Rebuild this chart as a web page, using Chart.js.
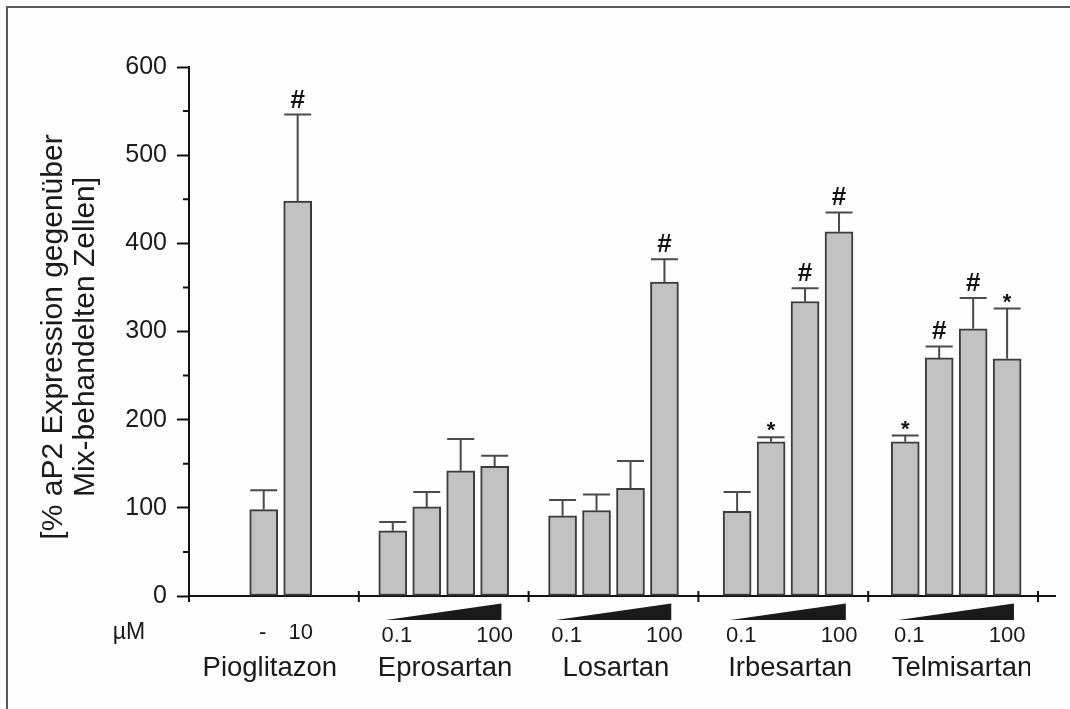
<!DOCTYPE html>
<html>
<head>
<meta charset="utf-8">
<script src="https://cdn.jsdelivr.net/npm/chart.js@4.4.1/dist/chart.umd.min.js"></script>
<style>
  html, body { margin: 0; padding: 0; background: #ffffff; }
  canvas { display: block; }
</style>
</head>
<body>
<canvas id="chart" width="1070" height="709"></canvas>
<script>
// aP2 expression per treatment group (mean and upward SEM), dose ramp 0.1 -> 100 µM
const groupNames = ['Pioglitazon', 'Eprosartan', 'Losartan', 'Irbesartan', 'Telmisartan'];
const doseLabels = [['-', '10'], ['0.1', '100'], ['0.1', '100'], ['0.1', '100'], ['0.1', '100']];
const meanValues = [[98, 448], [74, 101, 142, 147], [91, 97, 122, 356], [96, 175, 334, 413], [175, 270, 303, 269]];
const semValues = [[22, 98], [10, 17, 36, 12], [18, 18, 31, 26], [22, 5, 15, 22], [7, 13, 35, 57]];
const markers = [['', '#'], ['', '', '', ''], ['', '', '', '#'], ['', '*', '#', '#'], ['*', '#', '#', '*']];
const yTickValues = [0, 100, 200, 300, 400, 500, 600];
const unitLabel = 'µM';
const yTitle = ['[% aP2 Expression gegenüber', 'Mix-behandelten Zellen]'];

// layout on the linear x scale: each group spans 5 units
const FONT = '"Liberation Sans", Arial, sans-serif';
const GROUP_SPAN = 5;
const groupShift = [0, 0, 0, 0.14, 0.09];
const slotsFor = (g, n) => n === 2 ? [2.2, 3.2] : [1, 2, 3, 4];

const points = [];
const flatSem = [];
const flatMarks = [];
meanValues.forEach((vals, g) => {
  const slots = slotsFor(g, vals.length);
  vals.forEach((v, i) => {
    points.push({ x: g * GROUP_SPAN + slots[i] + groupShift[g], y: v });
    flatSem.push(semValues[g][i]);
    flatMarks.push(markers[g][i]);
  });
});

const decor = {
  id: 'decor',
  beforeDraw(chart) {
    const ctx = chart.ctx;
    ctx.save();
    ctx.fillStyle = '#fdfdfd';
    ctx.fillRect(0, 0, chart.width, chart.height);
    // frame
    ctx.strokeStyle = '#585858';
    ctx.lineWidth = 2;
    ctx.beginPath();
    ctx.moveTo(7, chart.height);
    ctx.lineTo(7, 7);
    ctx.lineTo(chart.width, 7);
    ctx.stroke();
    ctx.restore();
  },
  afterDatasetsDraw(chart) {
    const { ctx, scales: { y } } = chart;
    const meta = chart.getDatasetMeta(0);
    ctx.save();
    meta.data.forEach((bar, k) => {
      const top = y.getPixelForValue(points[k].y);
      const cap = y.getPixelForValue(points[k].y + flatSem[k]);
      ctx.strokeStyle = '#4a4a4a';
      ctx.lineWidth = 2;
      ctx.beginPath();
      ctx.moveTo(bar.x, top);
      ctx.lineTo(bar.x, cap);
      ctx.moveTo(bar.x - 13.5, cap);
      ctx.lineTo(bar.x + 13.5, cap);
      ctx.stroke();
      const m = flatMarks[k];
      if (m) {
        ctx.fillStyle = '#111';
        ctx.textAlign = 'center';
        ctx.textBaseline = 'alphabetic';
        if (m === '#') {
          ctx.font = 'bold 26px ' + FONT;
          ctx.fillText(m, bar.x, cap - 7);
        } else {
          ctx.font = 'bold 22px ' + FONT;
          ctx.fillText(m, bar.x, cap - 0);
        }
      }
    });
    ctx.restore();
  },
  afterDraw(chart) {
    const { ctx, scales: { x, y } } = chart;
    const axisY = y.getPixelForValue(0);
    ctx.save();
    ctx.strokeStyle = '#111';
    ctx.lineWidth = 2;
    // minor y ticks
    ctx.beginPath();
    for (let v = 50; v < 600; v += 100) {
      const py = y.getPixelForValue(v);
      ctx.moveTo(chart.chartArea.left - 6, py);
      ctx.lineTo(chart.chartArea.left, py);
    }
    // group separators on the x axis
    for (let g = 0; g <= groupNames.length; g++) {
      const px = x.getPixelForValue(g * GROUP_SPAN);
      ctx.moveTo(px, axisY - 5);
      ctx.lineTo(px, axisY + 6);
    }
    ctx.stroke();

    ctx.fillStyle = '#1a1a1a';
    ctx.textAlign = 'center';
    ctx.textBaseline = 'middle';

    // dose wedges and dose labels
    groupNames.forEach((name, g) => {
      const base = g * GROUP_SPAN + groupShift[g];
      ctx.font = '22px ' + FONT;
      if (meanValues[g].length === 2) {
        const slots = slotsFor(g, 2);
        ctx.fillText(doseLabels[g][0], x.getPixelForValue(base + slots[0]) - 1, 633);
        ctx.fillText(doseLabels[g][1], x.getPixelForValue(base + slots[1]) + 3, 633);
      } else {
        const x0 = x.getPixelForValue(base + 0.8);
        const x1 = x.getPixelForValue(base + 4.2);
        ctx.beginPath();
        ctx.moveTo(x0, 620);
        ctx.lineTo(x1, 620);
        ctx.lineTo(x1, 603.5);
        ctx.closePath();
        ctx.fill();
        ctx.fillText(doseLabels[g][0], x.getPixelForValue(base + 1.12), 636);
        ctx.fillText(doseLabels[g][1], x.getPixelForValue(base + 4.0), 636);
      }
    });

    // unit
    ctx.font = '23px ' + FONT;
    ctx.fillText(unitLabel, 129, 633);

    // group names (the frame cuts the last one at its right edge)
    ctx.save();
    ctx.beginPath();
    ctx.rect(0, 0, 1030, chart.height);
    ctx.clip();
    ctx.font = '27.5px ' + FONT;
    const nameOffsets = [2.38, 2.54, 2.57, 2.56, 2.67];
    groupNames.forEach((name, g) => {
      ctx.fillText(name, x.getPixelForValue(g * GROUP_SPAN + groupShift[g] + nameOffsets[g]), 668);
    });
    ctx.restore();

    // y axis title
    ctx.font = '30px ' + FONT;
    ctx.textBaseline = 'alphabetic';
    yTitle.forEach((line, i) => {
      ctx.save();
      ctx.translate(62 + i * 31.5, 337);
      ctx.rotate(-Math.PI / 2);
      ctx.fillText(line, 0, 0);
      ctx.restore();
    });
    ctx.restore();
  }
};

new Chart(document.getElementById('chart'), {
  type: 'bar',
  data: {
    datasets: [{
      data: points,
      backgroundColor: '#c2c2c2',
      borderColor: '#3c3c3c',
      borderWidth: 2,
      borderSkipped: false,
      barThickness: 28
    }]
  },
  options: {
    responsive: false,
    animation: false,
    devicePixelRatio: 1,
    layout: { padding: { left: 0, right: 15, top: 67, bottom: 0 } },
    plugins: { legend: { display: false }, tooltip: { enabled: false } },
    scales: {
      x: {
        type: 'linear',
        offset: false,
        min: 0,
        max: 25.5,
        grid: { display: false, offset: false },
        ticks: { display: false },
        border: { display: true, color: '#111', width: 2 },
        afterFit(scale) { scale.height = 709 - 596; }
      },
      y: {
        min: 0,
        max: 600,
        afterBuildTicks(scale) { scale.ticks = yTickValues.map(v => ({ value: v })); },
        ticks: { color: '#1a1a1a', font: { family: FONT, size: 25 }, padding: 10 },
        grid: { drawOnChartArea: false, tickLength: 12, tickColor: '#111', tickWidth: 2 },
        border: { color: '#111', width: 2 },
        afterFit(scale) { scale.width = 189; }
      }
    }
  },
  plugins: [decor]
});
</script>
</body>
</html>
